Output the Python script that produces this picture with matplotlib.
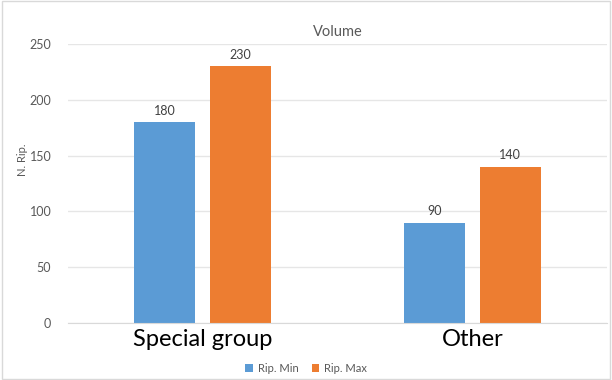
import numpy as np
from matplotlib import pyplot as plt
from matplotlib.patches import Rectangle

categories = ["Special group", "Other"]
rip_min = [180, 90]
rip_max = [230, 140]
series_names = ["Rip. Min", "Rip. Max"]
yticks = [0, 50, 100, 150, 200, 250]


def main():
    plt.rcParams['font.family'] = ['Lato', 'DejaVu Sans']
    blue = '#5B9BD5'
    orange = '#ED7D31'
    fig = plt.figure(figsize=(6.12, 3.8), dpi=100)
    fig.patches.append(Rectangle((0.003, 0.003), 0.994, 0.994, transform=fig.transFigure,
                                 fill=False, edgecolor='#d9d9d9', linewidth=1))
    ax = fig.add_axes([0.111, 0.15, 0.881, 0.734])
    x = np.arange(len(categories))
    w = 0.226
    b1 = ax.bar(x - 0.141, rip_min, w, color=blue, label=series_names[0])
    b2 = ax.bar(x + 0.141, rip_max, w, color=orange, label=series_names[1])
    for bars in (b1, b2):
        for r in bars:
            ax.text(r.get_x() + r.get_width() / 2, r.get_height() + 5, str(int(r.get_height())),
                    ha='center', va='bottom', fontsize=9, color='#404040')
    ax.set_xlim(-0.5, 1.5)
    ax.set_ylim(0, 250)
    ax.set_yticks(yticks)
    ax.set_xticks(x)
    ax.set_xticklabels(categories, fontsize=17, color='black')
    ax.tick_params(axis='x', length=0, pad=4)
    ax.tick_params(axis='y', length=0, labelsize=9, labelcolor='#595959', pad=12)
    ax.grid(axis='y', color='#e6e6e6', linewidth=1)
    ax.set_axisbelow(True)
    for s in ['top', 'right', 'left']:
        ax.spines[s].set_visible(False)
    ax.spines['bottom'].set_color('#d9d9d9')
    fig.text(22 / 612, 0.58, 'N. Rip.', rotation=90, ha='center', va='center',
             fontsize=8, color='#595959')
    ax.set_title('Volume', fontsize=10.5, color='#595959', pad=6)
    fig.legend(loc='lower center', bbox_to_anchor=(0.5, -0.01), ncol=2, frameon=False,
               fontsize=8, handlelength=0.7, handleheight=0.7, columnspacing=1.2,
               handletextpad=0.4, labelcolor='#595959')
    fig.savefig("out.png")


if __name__ == "__main__":
    main()
